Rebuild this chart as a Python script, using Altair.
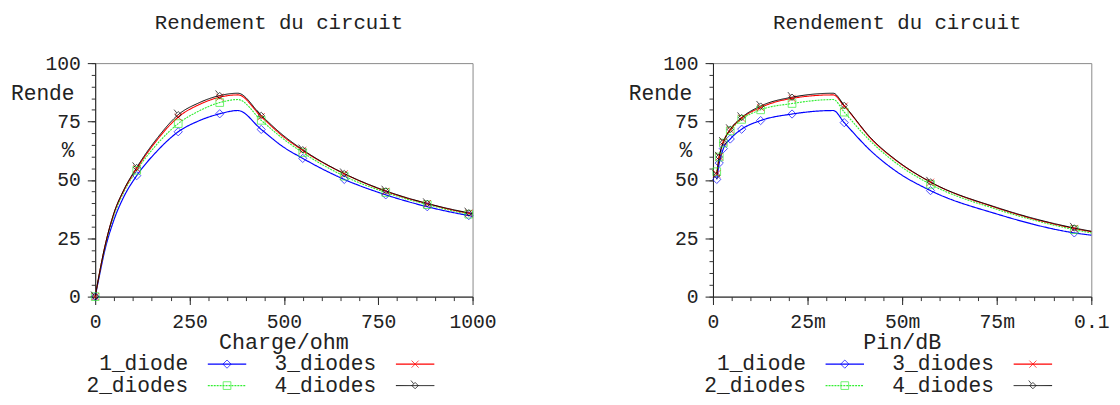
import altair as alt
import pandas as pd

FONT = "Liberation Mono"
TXT = "#222222"

series = ["1_diode", "2_diodes", "3_diodes", "4_diodes"]
colors = ["#0000ff", "#33ee33", "#ff0000", "#000000"]
line_widths = [1.2, 1.0, 1.5, 1.6]
line_dashes = [[1, 0], [2, 1], [1, 0], [1, 0]]
marker_shapes = ["diamond", "square", "M-1,-1L1,1M-1,1L1,-1",
                 "M0,-1L1,0L0,1L-1,0Z M-0.45,-0.55L-1.3,-1.6"]
marker_sizes = [70, 42, 49, 80]

# ---- left panel: efficiency vs load ----
charge_x = [0, 10, 25, 50, 75, 110, 165, 220, 275, 330, 378, 440, 495, 550,
            660, 770, 880, 990, 1000]
charge_marker_x = [0, 110, 220, 330, 440, 550, 660, 770, 880, 990]
charge_eff = {
    "1_diode":  [0, 8, 19.5, 33, 42.5, 51.8, 62.5, 70.6, 75.3, 78.3, 79.7, 71.6,
                 64.5, 59.2, 50.2, 43.6, 38.5, 34.7, 34.4],
    "2_diodes": [0, 8.8, 20.6, 35, 44.5, 54.1, 65.5, 74.1, 79.5, 83.1, 84.4, 75.5,
                 68.0, 61.7, 51.6, 44.6, 39.4, 35.3, 35.0],
    "3_diodes": [0, 9, 21, 35.8, 45.2, 54.8, 67.3, 76.9, 82.2, 85.4, 86.4, 77.1,
                 69.0, 62.6, 52.6, 45.1, 39.8, 35.7, 35.4],
    "4_diodes": [0, 9, 21, 36, 45.5, 55.3, 68.0, 77.9, 83.0, 86.1, 87.1, 77.6,
                 69.5, 62.9, 52.7, 45.3, 39.9, 35.9, 35.6],
}

# ---- right panel: efficiency vs input power ----
pin_x = [0.001, 0.00166, 0.00275, 0.00457, 0.00759, 0.0126, 0.0209, 0.0318,
         0.0347, 0.042, 0.0484, 0.0575, 0.075, 0.0955, 0.1]
pin_marker_x = [0.001, 0.00166, 0.00275, 0.00457, 0.00759, 0.0126, 0.0209,
                0.0347, 0.0575, 0.0955]
pin_eff = {
    "1_diode":  [50.2, 57.2, 63.4, 67.5, 71.7, 75.4, 78.2, 79.7, 74.5, 62.0,
                 53.7, 45.4, 35.4, 27.3, 26.3],
    "2_diodes": [53.5, 59.8, 65.8, 71.0, 75.9, 80.0, 82.7, 84.4, 79.0, 66.0,
                 57.2, 48.1, 37.4, 28.7, 27.3],
    "3_diodes": [52.6, 59.9, 66.3, 71.4, 76.4, 81.0, 84.9, 86.4, 81.6, 67.2,
                 58.3, 49.0, 38.0, 29.2, 27.8],
    "4_diodes": [51.9, 59.8, 66.1, 71.6, 76.7, 81.6, 85.4, 87.1, 81.9, 67.5,
                 58.5, 49.1, 38.2, 29.4, 28.0],
}

y_major = [0, 25, 50, 75, 100]
y_minor = list(range(0, 101, 5))
charge_major = [0, 250, 500, 750, 1000]
charge_minor = list(range(0, 1001, 50))
pin_major = [0, 0.025, 0.05, 0.075, 0.1]
pin_minor = [round(i * 0.005, 3) for i in range(21)]

legend_col = [0, 0, 1, 1]
legend_row = [0, 1, 0, 1]

H = 237


def sc(rng):
    return alt.Scale(domain=series, range=rng)


def panel(xs, mxs, eff, xtitle, xdomain, xmaj, xmin, xlabel_expr, w):
    rows = []
    for s in series:
        for xv, yv in zip(xs, eff[s]):
            rows.append({"x": xv, "y": yv, "series": s, "marker": xv in mxs})
    df = pd.DataFrame(rows)
    xscale = alt.Scale(domain=xdomain, nice=False, zero=False)
    yscale = alt.Scale(domain=[0, 100], nice=False)

    color = alt.Color("series:N", scale=sc(colors), legend=None)

    lines = alt.Chart(df).mark_line(interpolate="monotone").encode(
        x=alt.X("x:Q", scale=xscale,
                axis=alt.Axis(values=xmaj, orient="bottom", labelExpr=xlabel_expr,
                              labelFlush=False, labelOverlap=False, grid=False,
                              tickSize=8, labelPadding=7, domainColor="#222222",
                              tickColor="#222222", labelFont=FONT, labelFontSize=20,
                              labelColor=TXT, title=None)),
        y=alt.Y("y:Q", scale=yscale,
                axis=alt.Axis(values=y_major, orient="left", grid=False,
                              labelOverlap=False, tickSize=8, labelPadding=7,
                              domainColor="#222222", tickColor="#222222",
                              labelFont=FONT, labelFontSize=20, labelColor=TXT,
                              title=None)),
        color=color,
        strokeWidth=alt.StrokeWidth("series:N", scale=sc(line_widths), legend=None),
        strokeDash=alt.StrokeDash("series:N", scale=sc(line_dashes), legend=None),
        detail="series:N",
    )

    marks = alt.Chart(df).transform_filter("datum.marker").mark_point(
        filled=False, strokeWidth=1).encode(
        x=alt.X("x:Q", scale=xscale,
                axis=alt.Axis(values=xmin, orient="bottom", labels=False,
                              domain=False, grid=False, tickSize=4, title=None,
                              tickColor="#333333")),
        y=alt.Y("y:Q", scale=yscale,
                axis=alt.Axis(values=y_minor, orient="left", labels=False,
                              domain=False, grid=False, tickSize=4, title=None,
                              tickColor="#333333")),
        color=color,
        shape=alt.Shape("series:N", scale=sc(marker_shapes), legend=None),
        size=alt.Size("series:N", scale=sc(marker_sizes), legend=None),
    )

    # axis titles (drawn as text so the monospace font is honoured)
    ann_df = pd.DataFrame({"text": ["Rende", "%", xtitle],
                           "px": [-21, -21, w / 2],
                           "py": [37.3, 95.3, 290.3],
                           "kind": ["y", "y", "x"]})
    ax = alt.X("px:Q", scale=alt.Scale(domain=[0, w], range=[0, w]), axis=None)
    ay = alt.Y("py:Q", scale=alt.Scale(domain=[0, H], range=[0, H]), axis=None)
    ytitle = alt.Chart(ann_df).transform_filter("datum.kind == 'y'").mark_text(
        align="right", baseline="alphabetic", font=FONT, fontSize=21.5, color=TXT
    ).encode(x=ax, y=ay, text="text:N")
    xtitle_m = alt.Chart(ann_df).transform_filter("datum.kind == 'x'").mark_text(
        align="center", baseline="alphabetic", font=FONT, fontSize=22, color=TXT
    ).encode(x=ax, y=ay, text="text:N")

    leg_df = pd.DataFrame({"series": series, "col": legend_col, "row": legend_row})
    lx = alt.X("col:Q", scale=alt.Scale(domain=[0, 1], range=[94.3, 285.2]), axis=None)
    ly = alt.Y("row:Q", scale=alt.Scale(domain=[0, 1], range=[305.5, 327.3]), axis=None)
    leg_text = alt.Chart(leg_df).mark_text(
        align="right", baseline="middle", font=FONT, fontSize=21.5, color=TXT
    ).encode(x=lx, y=ly, text="series:N")
    leg_line = alt.Chart(leg_df).mark_rule(xOffset=20, x2Offset=59).encode(
        x=lx, x2="col:Q", y=ly, color=color,
        strokeWidth=alt.StrokeWidth("series:N", scale=sc(line_widths), legend=None),
        strokeDash=alt.StrokeDash("series:N", scale=sc(line_dashes), legend=None),
    )
    leg_pt = alt.Chart(leg_df).mark_point(filled=False, strokeWidth=1, xOffset=39.5).encode(
        x=lx, y=ly, color=color,
        shape=alt.Shape("series:N", scale=sc(marker_shapes), legend=None),
        size=alt.Size("series:N", scale=sc(marker_sizes), legend=None),
    )

    return alt.layer(lines, marks, ytitle, xtitle_m, leg_line, leg_pt, leg_text).resolve_scale(
        x="independent", y="independent"
    ).properties(
        width=w, height=H,
        title=alt.TitleParams("Rendement du circuit", font=FONT, fontSize=21,
                              fontWeight="normal", color=TXT, anchor="middle",
                              frame="group", dx=-5, offset=21),
    )


left = panel(charge_x, charge_marker_x, charge_eff, "Charge/ohm", [0, 1000],
             charge_major, charge_minor, "'' + datum.value", 383)
right = panel(pin_x, pin_marker_x, pin_eff, "Pin/dB", [0, 0.1], pin_major, pin_minor,
              "datum.value == 0 ? '0' : datum.value > 0.099 ? '0.1' : "
              "format(datum.value * 1000, 'd') + 'm'", 384)

chart = alt.hconcat(left, right, spacing=132).properties(
    padding={"left": 1.5, "top": 0, "right": 2, "bottom": 2}
).configure_view(stroke="#888888").configure_text(font=FONT)

chart.save("out.html", embed_options={"renderer": "svg", "actions": False})
